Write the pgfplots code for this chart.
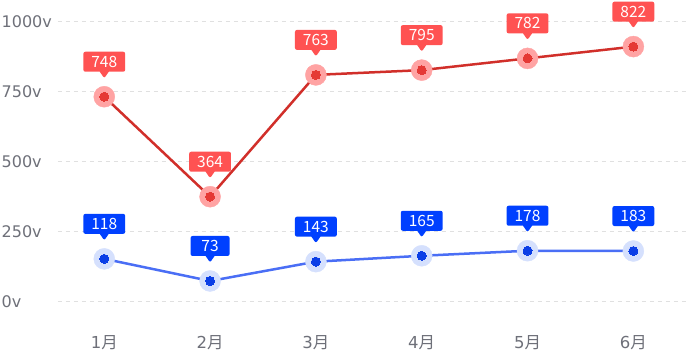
\documentclass[border=0pt]{standalone}
\usepackage{pgfplots}
\pgfplotsset{compat=1.18}
\usepackage{pgfplotstable}
\usepackage{fontspec}
\setmainfont{Noto Sans CJK SC}
\newfontfamily\dvs{DejaVu Sans}
\usetikzlibrary{shapes.callouts}
\definecolor{gridc}{HTML}{E0E0E0}
\definecolor{tickc}{HTML}{6E7079}
\definecolor{redbox}{HTML}{FF5252}
\definecolor{redline}{HTML}{D12F2A}
\definecolor{reddot}{HTML}{E53935}
\definecolor{redhalo}{HTML}{FFA3A3}
\definecolor{bluebox}{HTML}{0040FF}
\definecolor{blueline}{HTML}{4A6EF5}
\definecolor{bluedot}{HTML}{0B3EE6}
\definecolor{bluehalo}{HTML}{D5E0FD}

\pgfplotstableread{
x y lab
0 732 748
1 375 364
2 810 763
3 827 795
4 869 782
5 911 822
}\redtab
\pgfplotstableread{
x y lab
0 153 118
1 74 73
2 143 143
3 164 165
4 182 178
5 181 183
}\bluetab

\newcommand{\lbl}[1]{\fontsize{15.5}{15.5}\selectfont #1}

\begin{document}
\begin{tikzpicture}
\begin{axis}[
  name=ax,
  scale only axis,
  width=631.5pt, height=280pt,
  xmin=-0.442, xmax=5.526,
  ymin=0, ymax=1000,
  axis x line=bottom, axis y line=left,
  axis line style={draw=none, -},
  tick style={draw=none},
  ymajorgrids,
  grid style={gridc, dash pattern=on 4pt off 4pt, line width=0.8pt},
  ytick={0,250,500,750,1000},
  yticklabels={0v,250v,500v,750v,1000v},
  xtick={0,1,2,3,4,5},
  xticklabels={{\dvs 1}月,{\dvs 2}月,{\dvs 3}月,{\dvs 4}月,{\dvs 5}月,{\dvs 6}月},
  major tick length=0pt,
  yticklabel style={anchor=west, xshift=-56pt, font=\dvs\fontsize{16}{16}\selectfont, text=tickc, inner sep=0pt},
  xticklabel style={anchor=center, yshift=-41pt, font=\fontsize{16.5}{16.5}\selectfont, text=tickc},
  every node near coord/.append style={rectangle callout, callout relative pointer={(0pt,-6.5pt)}, callout pointer width=9pt,
    anchor=pointer, yshift=18.5pt, draw=none, text=white, rounded corners=2pt,
    inner xsep=8pt, inner ysep=4pt, minimum height=20pt, minimum width=39pt},
  nodes near coords={\lbl{\pgfplotspointmeta}},
  clip=false,
]
% halos
\addplot[only marks, mark=*, mark size=10.5pt, mark options={draw=redhalo, fill=redhalo}, nodes near coords={}] table[x=x,y=y] {\redtab};
\addplot[only marks, mark=*, mark size=10.5pt, mark options={draw=bluehalo, fill=bluehalo}, nodes near coords={}] table[x=x,y=y] {\bluetab};
% lines
\addplot[redline, line width=2.5pt, mark=*, mark size=4.5pt, mark options={draw=reddot, fill=reddot, line width=0pt},
  point meta=explicit symbolic,
  nodes near coords={\lbl{\pgfplotspointmeta}},
  every node near coord/.append style={fill=redbox}
] table[x=x,y=y,meta=lab] {\redtab};
\addplot[blueline, line width=2.5pt, mark=*, mark size=4.5pt, mark options={draw=bluedot, fill=bluedot, line width=0pt},
  point meta=explicit symbolic,
  nodes near coords={\lbl{\pgfplotspointmeta}},
  every node near coord/.append style={fill=bluebox}
] table[x=x,y=y,meta=lab] {\bluetab};
\end{axis}
\pgfresetboundingbox
\path ([xshift=-57.5pt,yshift=-50.3pt]ax.south west) rectangle ([yshift=21.7pt]ax.north east);
\end{tikzpicture}
\end{document}
